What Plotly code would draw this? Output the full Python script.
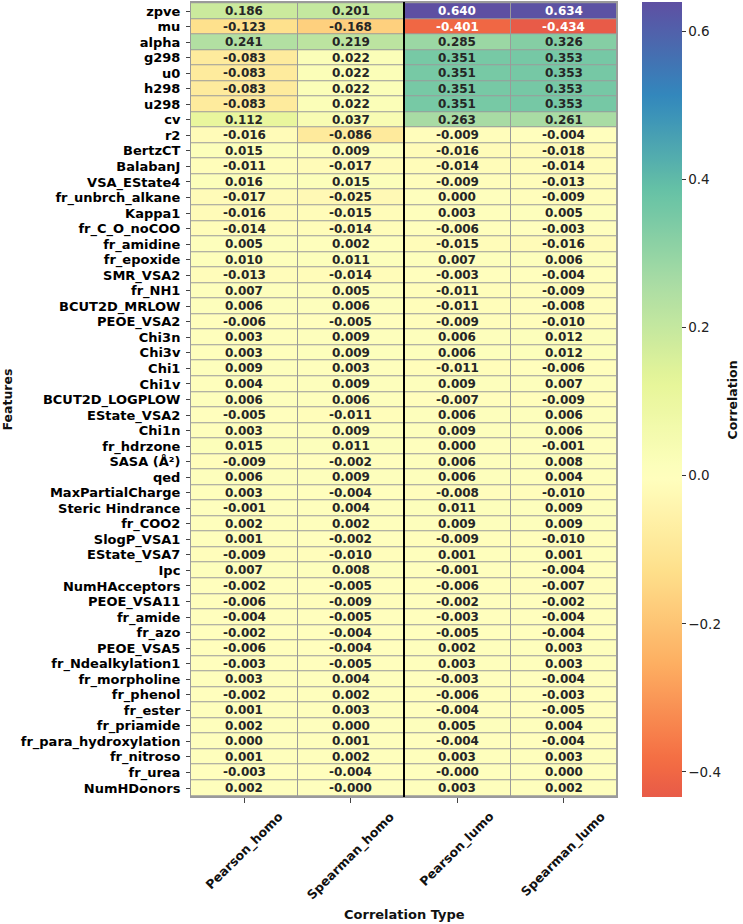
import plotly.graph_objects as go

features = [
    "zpve", "mu", "alpha", "g298", "u0", "h298", "u298", "cv", "r2", "BertzCT",
    "BalabanJ", "VSA_EState4", "fr_unbrch_alkane", "Kappa1", "fr_C_O_noCOO",
    "fr_amidine", "fr_epoxide", "SMR_VSA2", "fr_NH1", "BCUT2D_MRLOW", "PEOE_VSA2",
    "Chi3n", "Chi3v", "Chi1", "Chi1v", "BCUT2D_LOGPLOW", "EState_VSA2", "Chi1n",
    "fr_hdrzone", "SASA (Å²)", "qed", "MaxPartialCharge", "Steric Hindrance",
    "fr_COO2", "SlogP_VSA1", "EState_VSA7", "Ipc", "NumHAcceptors", "PEOE_VSA11",
    "fr_amide", "fr_azo", "PEOE_VSA5", "fr_Ndealkylation1", "fr_morpholine",
    "fr_phenol", "fr_ester", "fr_priamide", "fr_para_hydroxylation", "fr_nitroso",
    "fr_urea", "NumHDonors",
]

corr_types = ["Pearson_homo", "Spearman_homo", "Pearson_lumo", "Spearman_lumo"]

pearson_homo = [
    0.186, -0.123, 0.241, -0.083, -0.083, -0.083, -0.083, 0.112, -0.016, 0.015,
    -0.011, 0.016, -0.017, -0.016, -0.014, 0.005, 0.010, -0.013, 0.007, 0.006,
    -0.006, 0.003, 0.003, 0.009, 0.004, 0.006, -0.005, 0.003, 0.015, -0.009,
    0.006, 0.003, -0.001, 0.002, 0.001, -0.009, 0.007, -0.002, -0.006, -0.004,
    -0.002, -0.006, -0.003, 0.003, -0.002, 0.001, 0.002, 0.000, 0.001, -0.003,
    0.002,
]
spearman_homo = [
    0.201, -0.168, 0.219, 0.022, 0.022, 0.022, 0.022, 0.037, -0.086, 0.009,
    -0.017, 0.015, -0.025, -0.015, -0.014, 0.002, 0.011, -0.014, 0.005, 0.006,
    -0.005, 0.009, 0.009, 0.003, 0.009, 0.006, -0.011, 0.009, 0.011, -0.002,
    0.009, -0.004, 0.004, 0.002, -0.002, -0.010, 0.008, -0.005, -0.009, -0.005,
    -0.004, -0.004, -0.005, 0.004, 0.002, 0.003, 0.000, 0.001, 0.002, -0.004,
    -0.0002,
]
pearson_lumo = [
    0.640, -0.401, 0.285, 0.351, 0.351, 0.351, 0.351, 0.263, -0.009, -0.016,
    -0.014, -0.009, 0.000, 0.003, -0.006, -0.015, 0.007, -0.003, -0.011, -0.011,
    -0.009, 0.006, 0.006, -0.011, 0.009, -0.007, 0.006, 0.009, 0.000, 0.006,
    0.006, -0.008, 0.011, 0.009, -0.009, 0.001, -0.001, -0.006, -0.002, -0.003,
    -0.005, 0.002, 0.003, -0.003, -0.006, -0.004, 0.005, -0.004, 0.003, -0.0002,
    0.003,
]
spearman_lumo = [
    0.634, -0.434, 0.326, 0.353, 0.353, 0.353, 0.353, 0.261, -0.004, -0.018,
    -0.014, -0.013, -0.009, 0.005, -0.003, -0.016, 0.006, -0.004, -0.009, -0.008,
    -0.010, 0.012, 0.012, -0.006, 0.007, -0.009, 0.006, 0.006, -0.001, 0.008,
    0.004, -0.010, 0.009, 0.009, -0.010, 0.001, -0.004, -0.007, -0.002, -0.004,
    -0.004, 0.003, 0.003, -0.004, -0.003, -0.005, 0.004, -0.004, 0.003, 0.000,
    0.002,
]

colorbar_ticks = [-0.4, -0.2, 0.0, 0.2, 0.4, 0.6]

columns = [pearson_homo, spearman_homo, pearson_lumo, spearman_lumo]
z = [[col[i] for col in columns] for i in range(len(features))]

# ---- Spectral colormap, recentred on 0 like seaborn's center=0 ----
SPECTRAL = ["#9e0142", "#d53e4f", "#f46d43", "#fdae61", "#fee08b", "#ffffbf",
            "#e6f598", "#abdda4", "#66c2a5", "#3288bd", "#5e4fa2"]


def hex2rgb(h):
    return tuple(int(h[i:i + 2], 16) for i in (1, 3, 5))


SPEC_RGB = [hex2rgb(c) for c in SPECTRAL]


def spectral(s):
    s = min(max(s, 0.0), 1.0)
    p = s * (len(SPEC_RGB) - 1)
    i = min(int(p), len(SPEC_RGB) - 2)
    f = p - i
    a, b = SPEC_RGB[i], SPEC_RGB[i + 1]
    return tuple(a[k] + (b[k] - a[k]) * f for k in range(3))


flat = [v for row in z for v in row]
vmin, vmax = min(flat), max(flat)
vrange = max(vmax, -vmin)
cmin = (vmin + vrange) / (2 * vrange)
cmax = (vmax + vrange) / (2 * vrange)


def cell_rgb(v):
    t = (v - vmin) / (vmax - vmin)
    return spectral(cmin + t * (cmax - cmin))


N = 60
colorscale = []
for k in range(N + 1):
    t = k / N
    r, g, b = spectral(cmin + t * (cmax - cmin))
    colorscale.append([t, f"rgb({r:.0f},{g:.0f},{b:.0f})"])


def luminance(rgb):
    out = []
    for c in rgb:
        c = c / 255
        out.append(c / 12.92 if c <= 0.03928 else ((c + 0.055) / 1.055) ** 2.4)
    return 0.2126 * out[0] + 0.7152 * out[1] + 0.0722 * out[2]


FONT = "DejaVu Sans"

fig = go.Figure()
fig.add_trace(go.Heatmap(
    z=z, x=corr_types, y=features,
    colorscale=colorscale, zmin=vmin, zmax=vmax,
    xgap=1, ygap=1,
    colorbar=dict(
        x=1.0587, xanchor="left", xref="paper",
        y=0.5, yanchor="middle", len=1, lenmode="fraction",
        thickness=40, xpad=0, ypad=0, outlinewidth=0,
        tickvals=colorbar_ticks, tickformat=".1f",
        ticks="outside", ticklen=4, tickcolor="#333", tickwidth=1,
        tickfont=dict(family=FONT, size=13.5, color="#222"),
    ),
    hoverinfo="skip",
))

annotations = []
for i, feat in enumerate(features):
    for j, ct in enumerate(corr_types):
        v = z[i][j]
        col = "white" if luminance(cell_rgb(v)) <= 0.408 else "#262626"
        annotations.append(dict(
            x=ct, y=feat, xref="x", yref="y", text=f"<b>{v:.3f}</b>",
            showarrow=False, font=dict(family=FONT, size=12, color=col)))

for ct in corr_types:
    annotations.append(dict(
        x=ct, y=-0.011, xref="x", yref="paper", text=f"<b>{ct}</b>",
        showarrow=False, textangle=-45, xanchor="center", yanchor="top",
        font=dict(family=FONT, size=12.5, color="#111")))

annotations.append(dict(
    x=0.5, y=-0.1475, xref="paper", yref="paper", text="<b>Correlation Type</b>",
    showarrow=False, xanchor="center", yanchor="middle",
    font=dict(family=FONT, size=13, color="#111")))
annotations.append(dict(
    x=-0.4319, y=0.5, xref="paper", yref="paper", text="<b>Features</b>",
    showarrow=False, textangle=-90, xanchor="center", yanchor="middle",
    font=dict(family=FONT, size=12.5, color="#111")))
annotations.append(dict(
    x=1.2723, y=0.5, xref="paper", yref="paper", text="<b>Correlation</b>",
    showarrow=False, textangle=-90, xanchor="center", yanchor="middle",
    font=dict(family=FONT, size=12.5, color="#111")))

fig.update_layout(
    width=743, height=924,
    margin=dict(l=191, r=126, t=2, b=127, pad=0),
    paper_bgcolor="white", plot_bgcolor="#9a9a9a",
    annotations=annotations,
    shapes=[dict(type="line", xref="x", yref="paper", x0=1.5, x1=1.5,
                 y0=0, y1=1, line=dict(color="black", width=2))],
    xaxis=dict(showticklabels=False, ticks="outside", ticklen=5, tickcolor="#444",
               showgrid=False, zeroline=False, showline=True, linecolor="#9a9a9a",
               mirror=True, linewidth=1),
    yaxis=dict(autorange="reversed", ticks="outside", ticklen=4, tickcolor="#444",
               tickmode="array", tickvals=features, ticktext=features,
               tickfont=dict(family=FONT, size=13, color="black", weight="bold"),
               ticklabelstandoff=3,
               showgrid=False, zeroline=False, showline=True, linecolor="#9a9a9a",
               mirror=True, linewidth=1),
    font=dict(family=FONT),
)

fig.write_html("out.html")
